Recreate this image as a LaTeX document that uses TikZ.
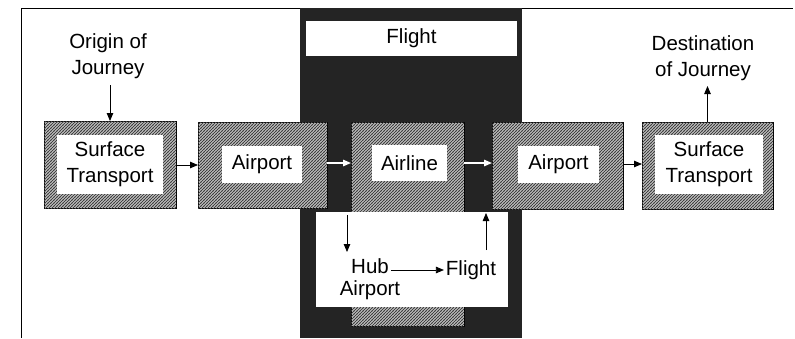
\documentclass[tikz,border=0pt]{standalone}
\usepackage{fontspec}
\setmainfont{Liberation Sans}
\usetikzlibrary{arrows.meta,patterns.meta}
\tikzdeclarepattern{
  name=finehatch,
  type=uncolored,
  bottom left={(-.5pt,-.5pt)},
  top right={(3.5pt,3.5pt)},
  tile size={(3pt,3pt)},
  code={\draw[line width=0.75pt] (-.5pt,-.5pt) -- (3.5pt,3.5pt);}
}
\begin{document}
\begin{tikzpicture}[x=1pt,y=-1pt,
  every node/.style={font=\fontsize{20.5}{26}\selectfont, align=center, inner sep=0pt, outer sep=0pt},
  hatch/.style={draw=black, line width=0.8pt, fill=gray!35,
    postaction={pattern=finehatch, pattern color=black!75}},
  whitebox/.style={fill=white},
  darkband/.style={fill=black!86},
  arr/.style={-{Triangle[length=8pt,width=6.5pt]}, line width=0.8pt, black},
  warr/.style={-{Triangle[length=8pt,width=6.5pt]}, line width=1.3pt, white},
  label/.style={inner sep=2pt}]
\useasboundingbox (0,0) rectangle (795,338);
% frame
\draw[line width=0.9pt] (21,338) -- (21,8) -- (793,8);
% dark band
\node[darkband, minimum width=222pt, minimum height=330pt] (band) at (411,173) {};
\node[whitebox, minimum width=211pt, minimum height=35pt] (flighttop) at (411.5,38.5) {Flight};
% airline box (tall)
\node[hatch, minimum width=113pt, minimum height=204pt] (airline) at (407.5,224) {};
\node[whitebox, minimum width=75pt, minimum height=36pt] (airlinein) at (409.5,163) {Airline};
% hub panel
\node[whitebox, minimum width=192pt, minimum height=95pt] (panel) at (412,259.5) {};
% surface transport 1
\node[hatch, minimum width=132pt, minimum height=87pt] (st1) at (110,164.5) {};
\node[whitebox, minimum width=106pt, minimum height=59pt] (st1in) at (110,164.5) {Surface\\Transport};
% airport 1
\node[hatch, minimum width=129pt, minimum height=86pt] (a1) at (262.5,165) {};
\node[whitebox, minimum width=80pt, minimum height=37pt] (a1in) at (262,164.5) {Airport};
% airport 2
\node[hatch, minimum width=131pt, minimum height=87pt] (a2) at (557.5,165.5) {};
\node[whitebox, minimum width=81pt, minimum height=37pt] (a2in) at (558.5,164.5) {Airport};
% surface transport 2
\node[hatch, minimum width=131pt, minimum height=87pt] (st2) at (707.5,165.5) {};
\node[whitebox, minimum width=108pt, minimum height=59pt] (st2in) at (709,164.5) {Surface\\Transport};
% origin / destination
\node[label] (orig) at (108,56) {Origin of\\Journey};
\node[label] (dest) at (703,58) {Destination\\of Journey};
% hub texts
\node[label] (hub) at (370,266) {Hub};
\node[label] (hubap) at (370,290) {Airport};
\node[label] (fl2) at (471,270) {Flight};
\coordinate (downstart) at (347,215);
\coordinate (downend) at (347,252);
\coordinate (upstart) at (486,250);
\coordinate (upend) at (486,213);
% arrows
\draw[arr] (st1.north |- 0,85) -- (st1.north);
\draw[arr] (st2.north) -- (st2.north |- 0,86);
\draw[arr] (st1.east |- 0,165) -- (a1.west |- 0,165);
\draw[warr] (a1.east |- 0,163) -- (airline.west |- 0,163);
\draw[warr] (airline.east |- 0,163) -- (a2.west |- 0,163);
\draw[arr] (a2.east |- 0,164) -- (st2.west |- 0,164);
\draw[arr] (downstart) -- (downend);
\draw[arr] (upstart) -- (upend);
\draw[arr] (hub.east |- 0,270) -- (fl2.west |- 0,270);
\end{tikzpicture}
\end{document}
